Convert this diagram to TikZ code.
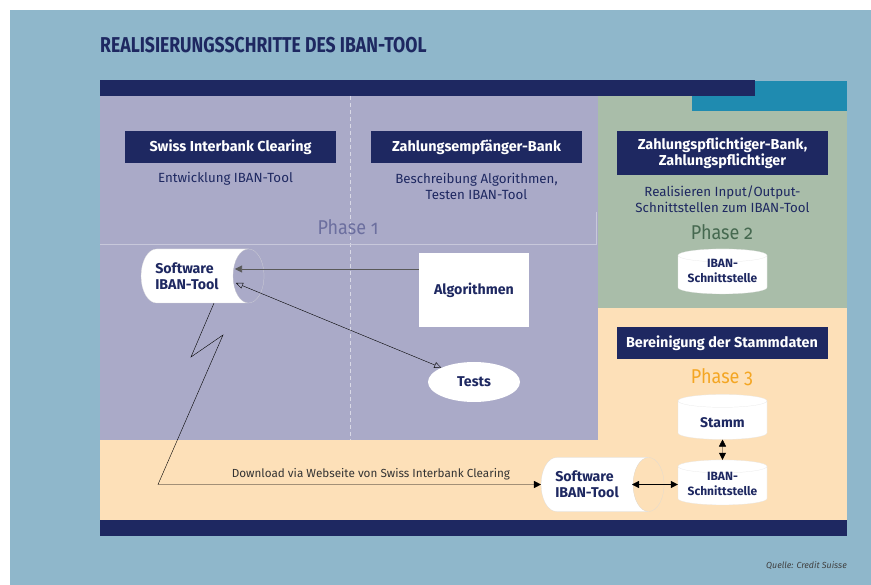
\documentclass[tikz,border=0pt]{standalone}
\usepackage{fontspec}
\setmainfont{Fira Sans}
\newfontfamily\titlefont{Fira Sans}[FakeStretch=0.82]
\newfontfamily\phasefont{Fira Sans}[FakeStretch=0.9, Numbers=OldStyle]
\usetikzlibrary{positioning,shapes.geometric,arrows.meta}
\definecolor{mynavy}{RGB}{30,40,97}
\definecolor{myskyblue}{RGB}{143,183,203}
\definecolor{mylilac}{RGB}{170,170,200}
\definecolor{mysage}{RGB}{169,189,169}
\definecolor{mysand}{RGB}{253,224,184}
\definecolor{myteal}{RGB}{31,139,176}
\definecolor{myorange}{RGB}{244,166,35}
\definecolor{mymoss}{RGB}{70,105,80}
\definecolor{mydusk}{RGB}{108,111,159}
\newcommand{\widthhead}{211pt}
\newcommand{\widthstore}{89pt}
\tikzset{
    dart/.tip={Triangle[length=7pt, width=7pt]},
    hollowdart/.tip={Triangle[open, length=7pt, width=6pt]},
    common/.style={inner sep=0pt, align=center},
    head/.style={common, fill=mynavy, text=white, font=\bfseries\fontsize{14.4}{16}\selectfont, minimum width=\widthhead, minimum height=32pt},
    note/.style={common, text=mynavy, font=\fontsize{13.3}{16}\selectfont},
    phase/.style={common, font=\phasefont\fontsize{20}{22}\selectfont},
    item/.style={common, text=mynavy, font=\bfseries\fontsize{14.2}{16}\selectfont},
    tooltext/.style={item, align=left, xshift=-7.75pt},
    storetext/.style={item, font=\bfseries\fontsize{12}{15}\selectfont},
    tool/.style={cylinder, shape border rotate=0, aspect=0.575, inner sep=0pt,
        text width=1pt, text height=54pt, text depth=0pt, minimum width=54pt, minimum height=123pt,
        draw=white!85!black, very thin, cylinder uses custom fill, cylinder body fill=white, cylinder end fill=#1},
    store/.style={cylinder, shape border rotate=90, aspect=0.145, inner sep=0pt,
        text width=\widthstore, text height=0pt, text depth=0pt, minimum width=\widthstore, minimum height=45pt,
        fill=white, draw=black!10, very thin},
    link/.style={thin, black, dart-dart}
}

\begin{document}
\begin{tikzpicture}[x=1pt, y=-1pt]
    \useasboundingbox (0,0) rectangle (871,585);
    \fill[white] (0,0) rectangle (871,585);
    \fill[myskyblue] (10,10) rectangle (871,585);

    \fill[mylilac] (100,96) rectangle (598,440);
    \fill[mysage] (598,96) rectangle (847,308);
    \fill[mysand] (598,308) rectangle (847,520);
    \fill[mysand] (100,440) rectangle (598,520);
    \fill[myteal] (692,81) rectangle (847,111);
    \fill[mynavy] (100,80) rectangle (755,96);
    \fill[mynavy] (100,520) rectangle (847,536);
    \draw[white!55!mylilac, dash pattern=on 4pt off 3pt] (350,96) -- (350,440);
    \draw[white!35!mylilac, very thin] (100,244) -- (596,244) -- (596,212);

    \node[anchor=west, inner sep=0pt, text=mynavy, font=\titlefont\bfseries\fontsize{21.5}{24}\selectfont] (title) at (100,45) {REALISIERUNGSSCHRITTE DES IBAN-TOOL};

    \node[head] (sic) at (230.5,147) {Swiss Interbank Clearing};
    \node[head] (zeb) at (476.5,147) {Zahlungsempfänger-Bank};
    \node[head, minimum height=44pt] (zpb) at (722.5,153) {Zahlungspflichtiger-Bank,\\Zahlungspflichtiger};
    \node[head] (ber) at (722,343) {Bereinigung der Stammdaten};

    \node[note, below=9pt of sic, xshift=-5pt] (sicnote) {Entwicklung IBAN-Tool};
    \node[note, below=10pt of zeb] (zebnote) {Beschreibung Algorithmen,\\Testen IBAN-Tool};
    \node[note, below=10pt of zpb] (zpbnote) {Realisieren Input/Output-\\Schnittstellen zum IBAN-Tool};

    \node[phase, text=mydusk] (phase1) at (348,227) {Phase 1};
    \node[phase, text=mymoss] (phase2) at (722,232) {Phase 2};
    \node[phase, text=myorange] (phase3) at (722,377) {Phase 3};

    \node[tool=mylilac, label={[tooltext]center:Software\\IBAN-Tool}] (tool1) at (194.75,276) {};
    \node[tool=mysand, label={[tooltext]center:Software\\IBAN-Tool}] (tool2) at (594.75,484.5) {};
    \node[item, fill=white, minimum width=110pt, minimum height=74pt] (algo) at (474,290) {Algorithmen};
    \node[item, ellipse, fill=white, minimum width=92pt, minimum height=40pt] (tests) at (474,382) {Tests};
    \node[store, label={[storetext, yshift=3.7pt]center:IBAN-\\Schnittstelle}] (iban2) at (722.5,274.7) {};
    \node[store, label={[storetext, yshift=-2.8pt, font=\bfseries\fontsize{14}{16}\selectfont]center:Stamm}] (stamm) at (722.5,420.2) {};
    \node[store, label={[storetext, yshift=1.7pt]center:IBAN-\\Schnittstelle}] (iban3) at (722.5,485.7) {};

    \coordinate (bend1) at (191,357);
    \coordinate (bend2) at (223,335);
    \coordinate (bend3) at (158,0);

    \draw[semithick, black!65, -dart] ([yshift=21pt]algo.west) -- ([xshift=40.25pt, yshift=7pt]tool1.center);
    \draw[thin, black, hollowdart-hollowdart] ([xshift=41.25pt, yshift=-7pt]tool1.center) -- (tests.north west);
    \draw[thin, black, -dart] ([xshift=19.25pt]tool1.south) -- (bend1) -- (bend2) -- (tool2.west -| bend3)
        -- node[pos=0.556, above=4pt, inner sep=0pt, text=black!80, font=\fontsize{11.7}{14}\selectfont] {Download via Webseite von Swiss Interbank Clearing} (tool2.west);
    \draw[link] ([xshift=37.25pt]tool2.center) -- (tool2.center -| iban3.west);
    \draw[link] (stamm.south) -- (iban3.north);

    \node[anchor=east, inner sep=0pt, text=black!75, font=\itshape\fontsize{8.8}{10}\selectfont] (source) at (847,566) {Quelle: Credit Suisse};
\end{tikzpicture}
\end{document}
